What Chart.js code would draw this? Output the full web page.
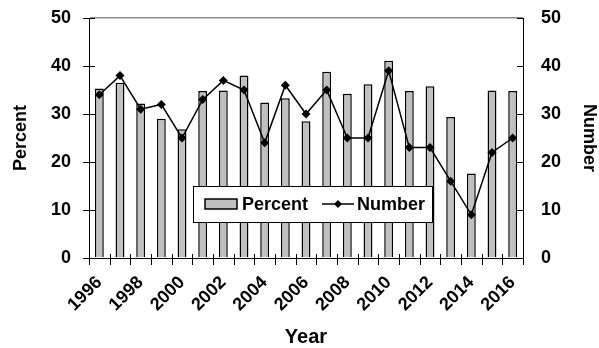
<!DOCTYPE html>
<html>
<head>
<meta charset="utf-8">
<script src="https://cdn.jsdelivr.net/npm/chart.js@4.4.0/dist/chart.umd.min.js"></script>
<style>
  html, body { margin: 0; padding: 0; background: #fff; }
  #wrap { width: 599px; height: 348px; }
</style>
</head>
<body>
<div id="wrap"><canvas id="myChart" width="599" height="348"></canvas></div>
<script>
// data
var years = ["1996","1997","1998","1999","2000","2001","2002","2003","2004","2005","2006",
             "2007","2008","2009","2010","2011","2012","2013","2014","2015","2016"];
var percentValues = [35.3, 36.5, 32.2, 29.0, 26.8, 34.8, 34.9, 38.0, 32.4, 33.3, 28.5,
                     38.8, 34.2, 36.2, 41.1, 34.8, 35.8, 29.4, 17.6, 34.9, 34.8];
var numberValues = [34, 38, 31, 32, 25, 33, 37, 35, 24, 36, 30,
                    35, 25, 25, 39, 23, 23, 16, 9, 22, 25];
var yTicks = [0, 10, 20, 30, 40, 50];

var FONT = "'Liberation Sans', Arial, sans-serif";

// small tick marks crossing the axes, like the original
var tickMarks = {
  id: 'tickMarks',
  afterDraw: function (chart) {
    var ctx = chart.ctx;
    var area = chart.chartArea;
    var x = chart.scales.x;
    var yl = chart.scales.y;
    ctx.save();
    ctx.strokeStyle = '#000';
    ctx.lineWidth = 1;
    ctx.beginPath();
    yTicks.forEach(function (v) {
      var py = Math.round(yl.getPixelForValue(v)) + 0.5;
      ctx.moveTo(area.left - 6, py); ctx.lineTo(area.left + 6, py);
      ctx.moveTo(area.right - 6, py); ctx.lineTo(area.right, py);
    });
    var step = x.getPixelForValue(1) - x.getPixelForValue(0);
    for (var i = 0; i <= years.length; i++) {
      var px = Math.round(x.getPixelForValue(0) - step / 2 + i * step) + 0.5;
      ctx.moveTo(px, area.bottom - 4); ctx.lineTo(px, area.bottom + 7);
    }
    ctx.stroke();
    ctx.restore();
  }
};

// legend box sitting inside the plot
var boxLegend = {
  id: 'boxLegend',
  afterDatasetsDraw: function (chart) {
    var ctx = chart.ctx;
    var area = chart.chartArea;
    var bx = area.left + 104, by = area.bottom - 72, bw = 239, bh = 36;
    var cy = by + bh / 2;
    ctx.save();
    ctx.fillStyle = '#fff';
    ctx.fillRect(bx, by, bw, bh);
    ctx.strokeStyle = '#000';
    ctx.lineWidth = 1;
    ctx.strokeRect(bx + 0.5, by + 0.5, bw, bh);
    // bar swatch
    ctx.fillStyle = '#c0c0c0';
    ctx.fillRect(bx + 12, cy - 5, 32, 10);
    ctx.lineWidth = 1.5;
    ctx.strokeRect(bx + 12, cy - 5, 32, 10);
    ctx.fillStyle = '#000';
    ctx.font = 'bold 18px ' + FONT;
    ctx.textBaseline = 'middle';
    ctx.fillText('Percent', bx + 49, cy + 1);
    // line swatch
    ctx.beginPath();
    ctx.moveTo(bx + 129, cy); ctx.lineTo(bx + 161, cy);
    ctx.stroke();
    ctx.beginPath();
    var dx = bx + 145;
    ctx.moveTo(dx, cy - 4); ctx.lineTo(dx + 4, cy); ctx.lineTo(dx, cy + 4); ctx.lineTo(dx - 4, cy);
    ctx.closePath();
    ctx.fill();
    ctx.fillText('Number', bx + 164, cy + 1);
    ctx.restore();
  }
};

var canvas = document.getElementById('myChart');
var chart = new Chart(canvas, {
  type: 'bar',
  data: {
    labels: years,
    datasets: [
      {
        type: 'line',
        label: 'Number',
        data: numberValues,
        yAxisID: 'y2',
        borderColor: '#000',
        backgroundColor: '#000',
        borderWidth: 1.5,
        pointStyle: 'rectRot',
        pointRadius: 4.5,
        pointBorderWidth: 0,
        tension: 0,
        order: 0
      },
      {
        label: 'Percent',
        data: percentValues,
        yAxisID: 'y',
        backgroundColor: '#c0c0c0',
        borderColor: '#000',
        borderWidth: 1.5,
        categoryPercentage: 1,
        barPercentage: 0.43,
        order: 1
      }
    ]
  },
  options: {
    responsive: false,
    animation: false,
    maintainAspectRatio: false,
    layout: { padding: { top: 18, left: 0, right: 0, bottom: 0 } },
    plugins: {
      legend: { display: false },
      title: { display: false },
      tooltip: { enabled: false }
    },
    scales: {
      x: {
        offset: true,
        grid: { display: false, offset: true },
        border: { display: true, color: '#000', width: 1 },
        ticks: {
          color: '#000',
          font: { family: FONT, size: 18, weight: 'bold' },
          autoSkip: false,
          minRotation: 45,
          maxRotation: 45,
          padding: 6,
          callback: function (val, i) { return i % 2 === 0 ? years[i] : ''; }
        },
        title: {
          display: true, text: 'Year', color: '#000',
          font: { family: FONT, size: 20, weight: 'bold', lineHeight: 1.1 },
          padding: 0
        },
        afterFit: function (s) { s.height = 90; s.paddingLeft = 0; s.paddingRight = 0; }
      },
      y: {
        position: 'left',
        min: 0, max: 50,
        grid: {
          drawTicks: false,
          color: function (c) { return c.tick && c.tick.value === 50 ? '#8c8c8c' : 'rgba(0,0,0,0)'; },
          lineWidth: 1.5
        },
        border: { display: true, color: '#000', width: 1 },
        ticks: {
          stepSize: 10, color: '#000', padding: 18,
          font: { family: FONT, size: 18, weight: 'bold' }
        },
        title: {
          display: true, text: 'Percent', color: '#000',
          font: { family: FONT, size: 18, weight: 'bold', lineHeight: 1.1 },
          padding: { top: 11, bottom: 0 }
        },
        afterFit: function (s) { s.width = 89; s.paddingTop = 0; s.paddingBottom = 0; }
      },
      y2: {
        position: 'right',
        min: 0, max: 50,
        grid: { display: false, drawTicks: false },
        border: { display: true, color: '#000', width: 1 },
        ticks: {
          stepSize: 10, color: '#000', padding: 18,
          font: { family: FONT, size: 18, weight: 'bold' }
        },
        title: {
          display: true, text: 'Number', color: '#000',
          font: { family: FONT, size: 18, weight: 'bold', lineHeight: 1.1 },
          padding: { top: 0, bottom: 0 }
        },
        afterFit: function (s) { s.width = 76; s.paddingTop = 0; s.paddingBottom = 0; }
      }
    }
  },
  plugins: [boxLegend, tickMarks]
});
</script>
</body>
</html>
